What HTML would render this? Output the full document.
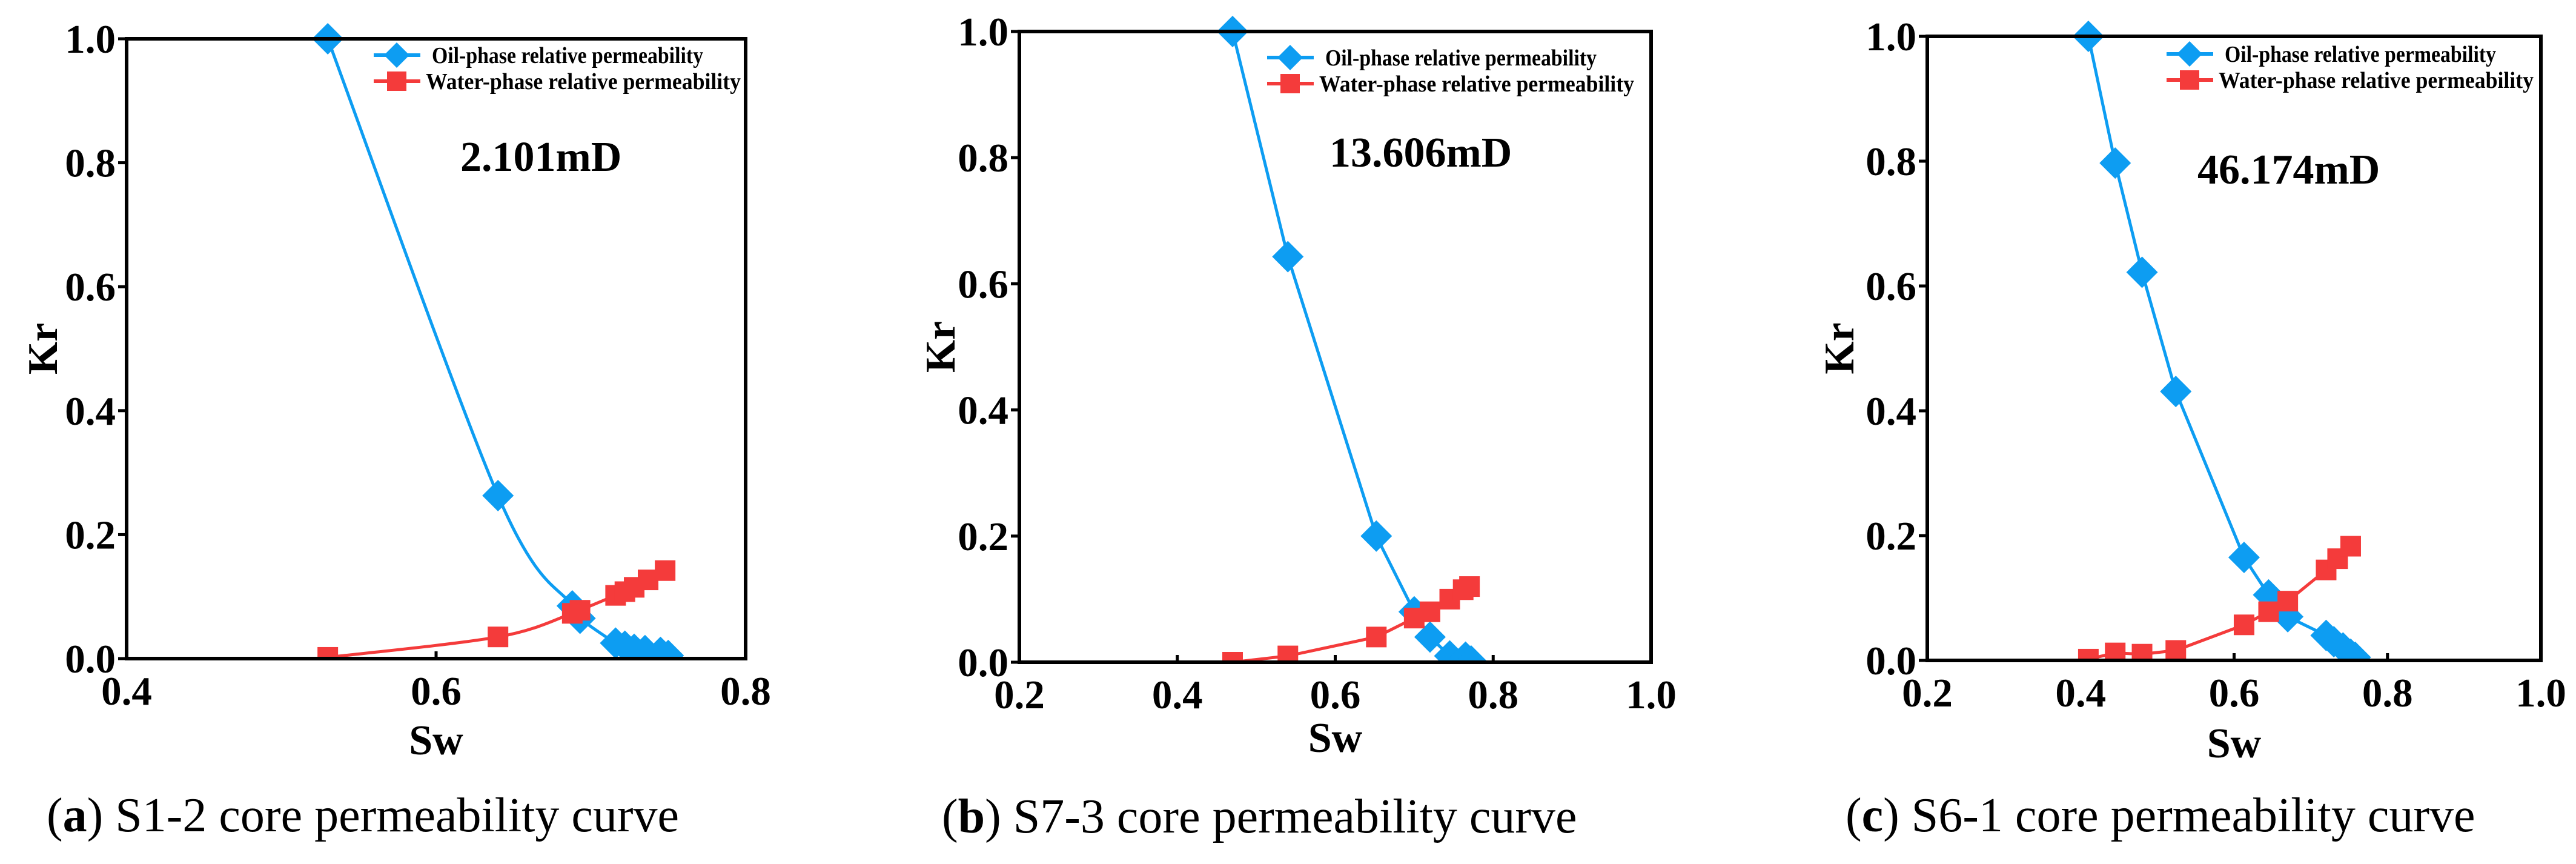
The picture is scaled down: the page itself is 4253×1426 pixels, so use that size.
<!DOCTYPE html>
<html><head><meta charset="utf-8"><style>
html,body{margin:0;padding:0;background:#fff;}
svg{display:block;}
.tk{font-family:"Liberation Serif",serif;font-weight:bold;font-size:67px;fill:#000;}
.ttl{font-family:"Liberation Serif",serif;font-weight:bold;font-size:70px;fill:#000;}
.lg{font-family:"Liberation Serif",serif;font-weight:bold;font-size:38px;fill:#000;}
.ann{font-family:"Liberation Serif",serif;font-weight:bold;font-size:70px;fill:#000;}
.cap{font-family:"Liberation Serif",serif;font-size:80px;fill:#000;}
</style></head><body>
<svg id="fig" width="4253" height="1426" viewBox="0 0 4253 1426" xmlns="http://www.w3.org/2000/svg"></svg>
<script>
// Panel (a) S1-2
const aOilX=[0.53,0.64,0.688,0.693,0.716,0.722,0.728,0.735,0.745,0.75];
const aOilY=[1.0,0.263,0.085,0.065,0.025,0.02,0.015,0.013,0.01,0.005];
const aWatX=[0.53,0.64,0.688,0.693,0.716,0.722,0.728,0.737,0.748];
const aWatY=[0.002,0.035,0.073,0.078,0.102,0.108,0.115,0.127,0.142];
const aXTicks=["0.4","0.6","0.8"];
// Panel (b) S7-3
const bOilX=[0.47,0.54,0.652,0.7,0.72,0.745,0.765,0.772];
const bOilY=[1.0,0.643,0.2,0.08,0.04,0.01,0.008,0.002];
const bWatX=[0.47,0.54,0.652,0.7,0.72,0.745,0.762,0.77];
const bWatY=[0.0,0.01,0.04,0.07,0.08,0.1,0.115,0.12];
const bXTicks=["0.2","0.4","0.6","0.8","1.0"];
// Panel (c) S6-1
const cOilX=[0.41,0.445,0.48,0.524,0.613,0.645,0.67,0.72,0.73,0.742,0.752,0.758];
const cOilY=[1.0,0.797,0.622,0.431,0.165,0.105,0.07,0.04,0.03,0.02,0.01,0.005];
const cWatX=[0.41,0.445,0.48,0.524,0.613,0.645,0.67,0.72,0.735,0.752];
const cWatY=[0.002,0.012,0.01,0.016,0.057,0.078,0.095,0.145,0.163,0.183];
const cXTicks=["0.2","0.4","0.6","0.8","1.0"];
const yTicks=["0.0","0.2","0.4","0.6","0.8","1.0"];
const annots=["2.101mD","13.606mD","46.174mD"];

const NS="http://www.w3.org/2000/svg";
const svg=document.getElementById('fig');
function el(t,a,p){const e=document.createElementNS(NS,t);for(const k in a)e.setAttribute(k,a[k]);(p||svg).appendChild(e);return e;}
const BLUE="#0D9DF2", RED="#F43B3B";

const panels=[
 {id:'a',L:209,R:1231,T:64,B:1087,xmin:0.4,xmax:0.8,xt:aXTicks,ox:aOilX,oy:aOilY,wx:aWatX,wy:aWatY,smooth:true,
  lgx:617,lgy:91,ann:[760,282],kr:70,sw:1245,cap:[77,1372],capL:'a'},
 {id:'b',L:1683,R:2726,T:52,B:1093,xmin:0.2,xmax:1.0,xt:bXTicks,ox:bOilX,oy:bOilY,wx:bWatX,wy:bWatY,smooth:false,
  lgx:2092,lgy:95,ann:[2195,275],kr:1552,sw:1241,cap:[1555,1374],capL:'b'},
 {id:'c',L:3182,R:4195,T:60,B:1090,xmin:0.2,xmax:1.0,xt:cXTicks,ox:cOilX,oy:cOilY,wx:cWatX,wy:cWatY,smooth:false,
  lgx:3577,lgy:89,ann:[3628,303],kr:3036,sw:1250,cap:[3047,1372],capL:'c'}
];

function smoothPath(pts){
 let d=`M${pts[0][0]},${pts[0][1]}`;
 for(let i=0;i<pts.length-1;i++){
  const p0=pts[Math.max(0,i-1)],p1=pts[i],p2=pts[i+1],p3=pts[Math.min(pts.length-1,i+2)];
  const c1=[p1[0]+(p2[0]-p0[0])/6,p1[1]+(p2[1]-p0[1])/6];
  const c2=[p2[0]-(p3[0]-p1[0])/6,p2[1]-(p3[1]-p1[1])/6];
  d+=` C${c1[0]},${c1[1]} ${c2[0]},${c2[1]} ${p2[0]},${p2[1]}`;
 }
 return d;
}
function diamond(g,x,y,r){return el('polygon',{points:`${x},${y-r} ${x+r},${y} ${x},${y+r} ${x-r},${y}`,fill:BLUE},g);}
function square(g,x,y,s){return el('rect',{x:x-s/2,y:y-s/2,width:s,height:s,fill:RED},g);}

panels.forEach(p=>{
 const g=el('g',{});
 
 
 const sx=v=>p.L+(v-p.xmin)/(p.xmax-p.xmin)*(p.R-p.L);
 const sy=v=>p.B-v*(p.B-p.T);
 const cp=el('clipPath',{id:'clip'+p.id},g);
 el('rect',{x:p.L,y:p.T-40,width:p.R-p.L+40,height:p.B-p.T+40},cp);
 p.xt.forEach(t=>{
  const x=sx(parseFloat(t));
  el('line',{x1:x,x2:x,y1:p.B,y2:p.B-12,stroke:'#000','stroke-width':5},g);
  const tx=el('text',{x:x,y:p.B+76,'text-anchor':'middle',class:'tk'},g);tx.textContent=t;
  
  
 });
 yTicks.forEach(t=>{
  const y=sy(parseFloat(t));
  el('line',{x1:p.L,x2:p.L-14,y1:y,y2:y,stroke:'#000','stroke-width':5},g);
  const tx=el('text',{x:p.L-18,y:y+23,'text-anchor':'end',class:'tk'},g);tx.textContent=t;
  
  
 });
 const dg=el('g',{'clip-path':`url(#clip${p.id})`},g);
 const op=p.ox.map((v,i)=>[sx(v),sy(p.oy[i])]);
 const wp=p.wx.map((v,i)=>[sx(v),sy(p.wy[i])]);
 const mk=(pts)=>p.smooth?smoothPath(pts):'M'+pts.map(q=>q.join(',')).join(' L');
 const ol=el('path',{d:mk(op),fill:'none',stroke:BLUE,'stroke-width':5},dg);
 
 
 const wl=el('path',{d:mk(wp),fill:'none',stroke:RED,'stroke-width':5},dg);
 
 
 op.forEach(q=>{const m=diamond(dg,q[0],q[1],26);
  
  });
 wp.forEach(q=>{const m=square(dg,q[0],q[1],34);
  
  });
 const fr=el('rect',{x:p.L,y:p.T,width:p.R-p.L,height:p.B-p.T,fill:'none',stroke:'#000','stroke-width':6},g);
 
 
 const lg=el('g',{},g);
 
 
 el('line',{x1:p.lgx,x2:p.lgx+77,y1:p.lgy,y2:p.lgy,stroke:BLUE,'stroke-width':6},lg);
 diamond(lg,p.lgx+38,p.lgy,21);
 let t=el('text',{x:p.lgx+96,y:p.lgy+13,class:'lg',textLength:448,lengthAdjust:'spacingAndGlyphs'},lg);t.textContent='Oil-phase relative permeability';
 el('line',{x1:p.lgx,x2:p.lgx+77,y1:p.lgy+43,y2:p.lgy+43,stroke:RED,'stroke-width':6},lg);
 square(lg,p.lgx+38,p.lgy+43,32);
 t=el('text',{x:p.lgx+86,y:p.lgy+56,class:'lg',textLength:520,lengthAdjust:'spacingAndGlyphs'},lg);t.textContent='Water-phase relative permeability';
 t=el('text',{x:p.ann[0],y:p.ann[1],class:'ann'},g);t.textContent=annots[panels.indexOf(p)];
 
 
 t=el('text',{x:(p.L+p.R)/2,y:p.sw,'text-anchor':'middle',class:'ttl'},g);t.textContent='Sw';
 
 
 t=el('text',{x:p.kr,y:(p.T+p.B)/2,'text-anchor':'middle',class:'ttl',transform:`rotate(-90 ${p.kr} ${(p.T+p.B)/2})`,dy:24},g);t.textContent='Kr';
 
 
 t=el('text',{x:p.cap[0],y:p.cap[1],class:'cap'},g);
 
 
 const s1=el('tspan',{},t);s1.textContent='(';
 const s2=el('tspan',{'font-weight':'bold'},t);s2.textContent=p.capL;
 const s3=el('tspan',{},t);s3.textContent=') '+['S1-2','S7-3','S6-1'][panels.indexOf(p)]+' core permeability curve';
});
</script>
</body></html>
